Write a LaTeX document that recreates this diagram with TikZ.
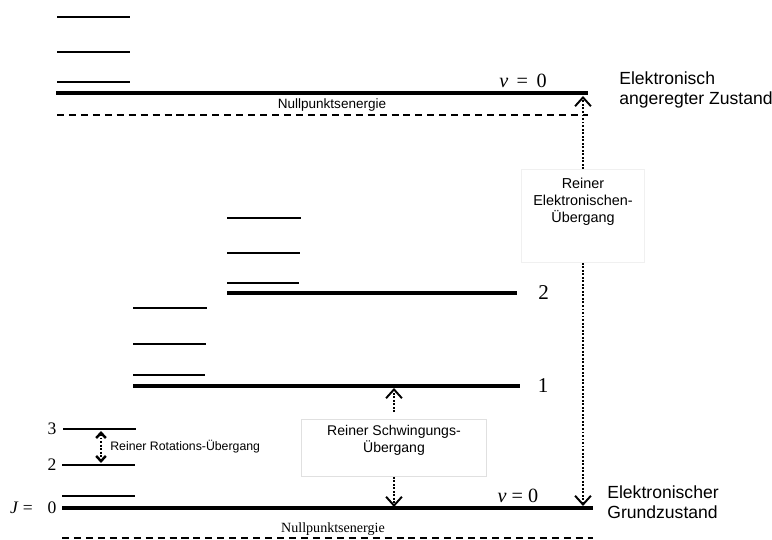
\documentclass[tikz,border=0pt]{standalone}
\usepackage{fontspec}
\setmainfont{Liberation Serif}
\setsansfont{Liberation Sans}
\usepackage{tikz}
\usetikzlibrary{positioning,calc}
\usetikzlibrary{arrows.meta}
\tikzset{
	level/.style={draw,line width=2.3pt},
	sublevel/.style={draw,line width=1.2pt},
	zeroline/.style={draw,line width=0.8pt,dash pattern=on 4pt off 2.8pt},
	transition/.style={draw,line width=1.1pt,dash pattern=on 1.1pt off 0.9pt},
	bigtip/.style={-{Straight Barb[width=9pt,length=5pt,line width=1.1pt]}},
	smalltip/.style={{Straight Barb[width=5.5pt,length=3pt,line width=1.4pt]}-{Straight Barb[width=5.5pt,length=3pt,line width=1.4pt]}},
	statelabel/.style={font=\sffamily\fontsize{10}{11.5}\selectfont,align=left,anchor=west,inner sep=0pt},
	boxframe/.style={rectangle,draw=black!12,fill=white},
	boxtext/.style={font=\sffamily\fontsize{8}{9.5}\selectfont,align=center,inner sep=0pt},
	vlabel/.style={font=\fontsize{12}{14}\selectfont,inner sep=0pt},
	jlabel/.style={font=\fontsize{10}{11}\selectfont,inner sep=0pt},
	nulabel/.style={font=\fontsize{11.5}{13}\selectfont,inner sep=0pt},
}

\begin{document}
\begin{tikzpicture}[x=0.02cm,y=-0.02cm]
	\useasboundingbox (0,0) rectangle (772,540);
	
	% Excited electronic state
	\draw[sublevel] (57,17) -- (130,17);
	\draw[sublevel] (57,52) -- (130,52);
	\draw[sublevel] (57,82) -- (130,82);
	\coordinate (ex0) at (56,93);
	\coordinate (ex0end) at (588,93);
	\draw[level] (ex0) -- (ex0end);
	\draw[zeroline] (57,115) -- (588,115);
	\node[font=\sffamily\fontsize{7.7}{9}\selectfont,inner sep=0pt] (exnull) at (332,105) {Nullpunktsenergie};
	\node[nulabel] (exnu) at (523,81) {\textit{ν} \,=\, 0};
	\node[statelabel] (exstate) at (619,90) {Elektronisch\\angeregter Zustand};
	
	% Vibrational level v = 2
	\draw[sublevel] (227,218) -- (301,218);
	\draw[sublevel] (227,253) -- (300,253);
	\draw[sublevel] (227,283) -- (299,283);
	\coordinate (v2end) at (517,293);
	\draw[level] (227,293) -- (v2end);
	\node[vlabel,right=12pt of v2end] (v2) {2};
	
	% Vibrational level v = 1
	\draw[sublevel] (133,308) -- (207,308);
	\draw[sublevel] (133,344) -- (206,344);
	\draw[sublevel] (133,375) -- (205,375);
	\coordinate (v1end) at (520,386);
	\draw[level] (133,386) -- (v1end);
	\node[vlabel,right=10pt of v1end] (v1) {1};
	
	% Ground electronic state
	\draw[sublevel] (63,429) -- (136,429);
	\draw[sublevel] (62,465) -- (135,465);
	\draw[sublevel] (62,496) -- (135,496);
	\draw[level] (62,508) -- (593,508);
	\draw[zeroline] (62,538) -- (593,538);
	\node[jlabel] (j3) at (52,429) {3};
	\node[jlabel] (j2) at (52,465) {2};
	\node[jlabel] (j0) at (52,508) {0};
	\node[jlabel,left=8pt of j0] (jname) {\textit{J} =};
	\node[font=\fontsize{8}{9}\selectfont,inner sep=0pt] (gnull) at (333,529) {Nullpunktsenergie};
	\node[nulabel] (gnu) at (518,496) {\textit{ν} = 0};
	\node[statelabel] (gstate) at (607,502) {Elektronischer\\Grundzustand};
	
	% Pure rotational transition
	\coordinate (rot3) at (101,431);
	\coordinate (rot2) at (101,463);
	\draw[transition,smalltip] (rot3) -- (rot2);
	\node[font=\sffamily\fontsize{7}{8}\selectfont,anchor=west,inner sep=0pt] (rottext) at (110,447) {Reiner Rotations-Übergang};
	
	% Pure vibrational transition
	\node[boxframe,minimum width=3.7cm,minimum height=1.14cm] (vibbox) at (394,448) {};
	\node[boxtext,below=3.5pt of vibbox.north] (vibtext) {Reiner Schwingungs-\\Übergang};
	\coordinate (vibup) at (394,388);
	\coordinate (vibdown) at (394,507);
	\draw[transition,bigtip,shorten <=4pt] (vibbox.north) -- (vibup);
	\draw[transition,bigtip] (vibbox.south) -- (vibdown);
	
	% Pure electronic transition
	\node[boxframe,draw=black!6,minimum width=2.45cm,minimum height=1.86cm] (elbox) at (583,216) {};
	\node[boxtext,font=\sffamily\fontsize{8.2}{9.5}\selectfont,below=5pt of elbox.north] (eltext) {Reiner\\Elektronischen-\\Übergang};
	\coordinate (elup) at (583,96);
	\coordinate (eldown) at (583,506);
	\draw[transition,bigtip] (elbox.north) -- (elup);
	\draw[transition,bigtip] (elbox.south) -- (eldown);
\end{tikzpicture}
\end{document}
